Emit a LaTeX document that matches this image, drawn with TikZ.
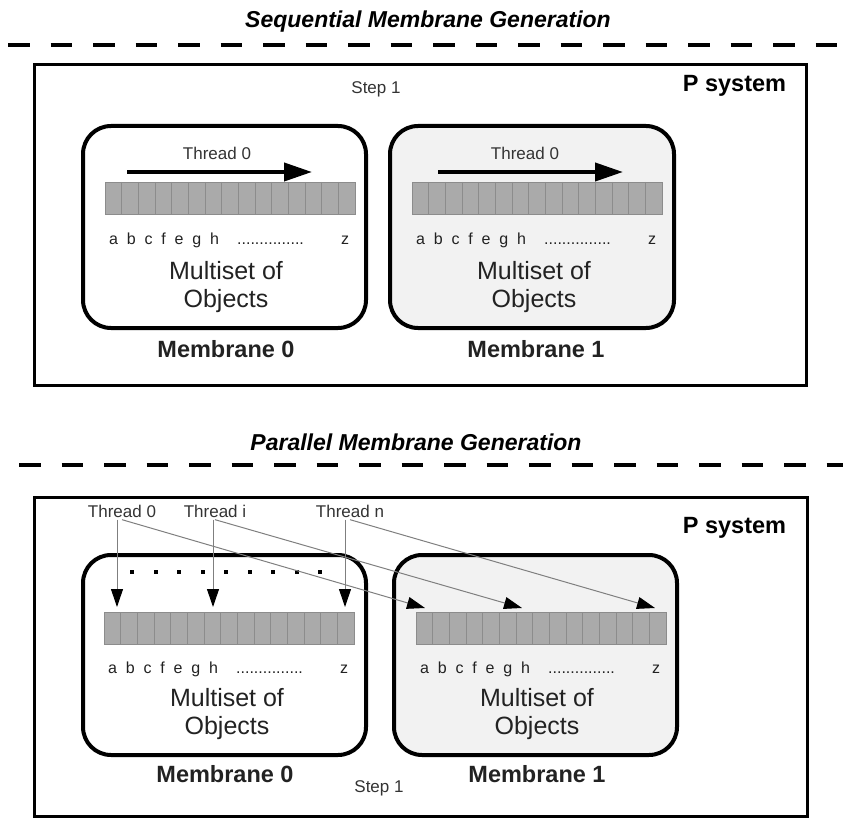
\documentclass[tikz,border=0pt]{standalone}
\usepackage{fontspec}
\setmainfont{Liberation Sans}
\usetikzlibrary{arrows.meta}
\definecolor{barfill}{HTML}{AAAAAA}
\definecolor{barline}{HTML}{8C8C8C}
\definecolor{memfill}{HTML}{F2F2F2}
\definecolor{txt}{HTML}{222222}
\definecolor{lbl}{HTML}{333333}
\definecolor{thinline}{HTML}{7F7F7F}
\begin{document}
\begin{tikzpicture}[x=1pt,y=-1pt,
  title/.style={font=\fontsize{23}{28}\selectfont\bfseries\itshape, inner sep=0pt, anchor=base},
  psys/.style={font=\fontsize{23.5}{28}\selectfont\bfseries, inner sep=0pt, anchor=base},
  memlabel/.style={font=\fontsize{23.5}{28}\selectfont\bfseries, text=txt, inner sep=0pt, anchor=base},
  multiset/.style={font=\fontsize{25}{28}\selectfont, align=center, text=txt, inner sep=0pt},
  smalltext/.style={font=\fontsize{17}{20}\selectfont, text=lbl, inner sep=0pt, outer sep=2.5pt, anchor=base},
  letters/.style={font=\fontsize{16}{19}\selectfont, text=txt, inner sep=0pt, anchor=base west},
  zlabel/.style={font=\fontsize{16}{19}\selectfont, text=txt, inner sep=0pt, anchor=base},
  psbox/.style={draw=black, line width=3pt, inner sep=0pt, outer sep=0pt},
  membrane/.style={draw=black, line width=4pt, rounded corners=28pt, inner sep=0pt, outer sep=0pt},
  bar/.style={draw=barline, fill=barfill, line width=0.8pt, inner sep=0pt, outer sep=0pt,
              minimum width=250pt, minimum height=32pt, anchor=north west},
  cellline/.style={draw=barline, line width=0.8pt},
  bigarrow/.style={line width=4pt, -{Triangle[length=28pt,width=18pt]}},
  thinarrow/.style={draw=thinline, line width=1pt, -{Triangle[length=18pt,width=12pt,color=black]}},
  dashline/.style={line width=4.5pt, dash pattern=on 21.5pt off 21pt},
  dotmark/.style={fill=black}
]
\useasboundingbox (0,0) rectangle (843,818);

% ---------- Sequential ----------
\node[title] (tseq) at (428,28) {Sequential Membrane Generation};
\coordinate (dl1a) at (8,45);
\coordinate (dl1b) at (843,45);
\draw[dashline] (dl1a) -- (dl1b);

\node[psbox, minimum width=772pt, minimum height=320pt] (ps1) at (420,225) {};
\node[psys] (ps1lbl) at (734.5,92) {P system};
\node[smalltext] (step1a) at (376,94) {Step 1};

\node[membrane, minimum width=283pt, minimum height=202pt] (m0a) at (224.5,227) {};
\node[membrane, fill=memfill, minimum width=284pt, minimum height=202pt] (m1a) at (532,227) {};

% bars
\node[bar] (b0a) at (105,182) {};
\node[bar] (b1a) at (412,182) {};
\foreach \b in {b0a,b1a}{
  \foreach \k in {1,...,14}{
    \draw[cellline] ([xshift=\k*16.667pt]\b.north west) -- ([xshift=\k*16.667pt]\b.south west);
  }
}

% thread arrows
\node[smalltext] (th0a) at (217,160) {Thread 0};
\node[smalltext] (th1a) at (525,160) {Thread 0};
\coordinate (a0s) at (127,172);
\coordinate (a0e) at (312,172);
\coordinate (a1s) at (438,172);
\coordinate (a1e) at (623,172);
\draw[bigarrow] (a0s) -- (a0e);
\draw[bigarrow] (a1s) -- (a1e);

% letters
\node[letters] (l0a) at (109,245) {{\spaceskip=8.8pt a b c f e g h}};
\node[letters] (d0a) at (237,245) {...............};
\node[zlabel] (z0a) at (345,245) {z};
\node[letters] (l1a) at (416,245) {{\spaceskip=8.8pt a b c f e g h}};
\node[letters] (d1a) at (544,245) {...............};
\node[zlabel] (z1a) at (652,245) {z};

\node[multiset] (ms0a) at (226,287.5) {Multiset of\\Objects};
\node[multiset] (ms1a) at (534,287.5) {Multiset of\\Objects};

\node[memlabel] (ml0a) at (226,357) {Membrane 0};
\node[memlabel] (ml1a) at (536,357) {Membrane 1};

% ---------- Parallel ----------
\node[title] (tpar) at (416,450) {Parallel Membrane Generation};
\coordinate (dl2a) at (19,465);
\coordinate (dl2b) at (843,465);
\draw[dashline] (dl2a) -- (dl2b);

\node[psbox, minimum width=773pt, minimum height=319pt] (ps2) at (420.5,656.5) {};
\node[psys] (ps2lbl) at (734.5,533) {P system};
\node[smalltext] (step1b) at (379,792) {Step 1};

\node[membrane, minimum width=283pt, minimum height=200pt] (m0b) at (224.5,655) {};
\node[membrane, fill=memfill, minimum width=283pt, minimum height=200pt] (m1b) at (535.5,655) {};

\node[bar] (b0b) at (104,612) {};
\node[bar] (b1b) at (416,612) {};
\foreach \b in {b0b,b1b}{
  \foreach \k in {1,...,14}{
    \draw[cellline] ([xshift=\k*16.667pt]\b.north west) -- ([xshift=\k*16.667pt]\b.south west);
  }
}

% dots row
\foreach \k in {0,...,8}{
  \fill[dotmark] (132+\k*23.5-2,570) rectangle (132+\k*23.5+2,574);
}

\node[letters] (l0b) at (108,673) {{\spaceskip=8.8pt a b c f e g h}};
\node[letters] (d0b) at (236,673) {...............};
\node[zlabel] (z0b) at (344,673) {z};
\node[letters] (l1b) at (420,673) {{\spaceskip=8.8pt a b c f e g h}};
\node[letters] (d1b) at (548,673) {...............};
\node[zlabel] (z1b) at (656,673) {z};

\node[multiset] (ms0b) at (227,714.5) {Multiset of\\Objects};
\node[multiset] (ms1b) at (537,714.5) {Multiset of\\Objects};

\node[memlabel] (ml0b) at (225,782) {Membrane 0};
\node[memlabel] (ml1b) at (537,782) {Membrane 1};

% threads
\node[smalltext] (t0) at (122,517) {Thread 0};
\node[smalltext] (ti) at (215,517) {Thread i};
\node[smalltext] (tn) at (350,517) {Thread n};
\coordinate (v0) at (117,607);
\coordinate (vi) at (213,607);
\coordinate (vn) at (345,607);
\coordinate (d0) at (425,608);
\coordinate (di) at (522,608);
\coordinate (dn) at (655,608);
\draw[thinarrow] (t0.south -| v0) -- (v0);
\draw[thinarrow] (ti.south -| vi) -- (vi);
\draw[thinarrow] (tn.south -| vn) -- (vn);
\draw[thinarrow] (t0.south) -- (d0);
\draw[thinarrow] (ti.south) -- (di);
\draw[thinarrow] (tn.south) -- (dn);
\end{tikzpicture}
\end{document}
